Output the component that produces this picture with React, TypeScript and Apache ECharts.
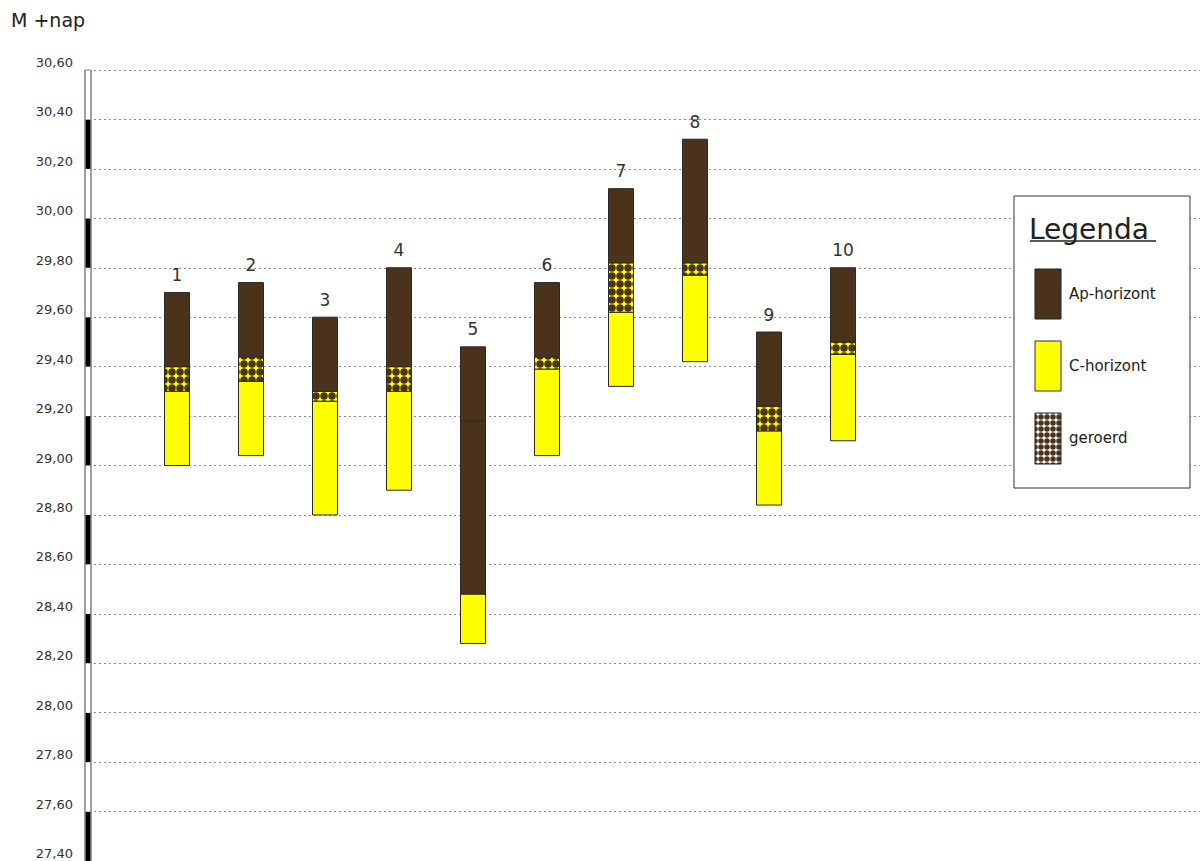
import React, { useEffect, useRef } from 'react';
import * as echarts from 'echarts';

// Profile numbers (boringen)
const profiles = ['1', '2', '3', '4', '5', '6', '7', '8', '9', '10'];

// Layers per profile: [profile index, bottom (m +NAP), top (m +NAP)]
const cHorizont = [
  [0, 29.0, 29.3],
  [1, 29.04, 29.34],
  [2, 28.8, 29.26],
  [3, 28.9, 29.3],
  [4, 28.28, 28.48],
  [5, 29.04, 29.39],
  [6, 29.32, 29.62],
  [7, 29.42, 29.77],
  [8, 28.84, 29.14],
  [9, 29.1, 29.45],
];
const geroerd = [
  [0, 29.3, 29.4],
  [1, 29.34, 29.44],
  [2, 29.26, 29.3],
  [3, 29.3, 29.4],
  [5, 29.39, 29.44],
  [6, 29.62, 29.82],
  [7, 29.77, 29.82],
  [8, 29.14, 29.24],
  [9, 29.45, 29.5],
];
const apHorizont = [
  [0, 29.4, 29.7],
  [1, 29.44, 29.74],
  [2, 29.3, 29.6],
  [3, 29.4, 29.8],
  [4, 28.48, 29.18],
  [4, 29.18, 29.48],
  [5, 29.44, 29.74],
  [6, 29.82, 30.12],
  [7, 29.82, 30.32],
  [8, 29.24, 29.54],
  [9, 29.5, 29.8],
];

const yMin = 27.4;
const yMax = 30.6;
const yStep = 0.2;

const legendItems = ['Ap-horizont', 'C-horizont', 'geroerd'];

const FONT = 'DejaVu Sans';
const AP_COLOR = '#4b321b';
const C_COLOR = '#ffff00';

function makePattern(bg: string, dot: string, size: number, r: number) {
  const c = document.createElement('canvas');
  c.width = size;
  c.height = size;
  const ctx = c.getContext('2d')!;
  ctx.fillStyle = bg;
  ctx.fillRect(0, 0, size, size);
  ctx.fillStyle = dot;
  ctx.beginPath();
  ctx.arc(size / 2, size / 2, r, 0, Math.PI * 2);
  ctx.fill();
  return { image: c, repeat: 'repeat', imageWidth: size, imageHeight: size } as any;
}

export default function App() {
  const ref = useRef<HTMLDivElement>(null);

  useEffect(() => {
    if (!ref.current) return;
    const chart = echarts.init(ref.current, undefined, { renderer: 'svg' });

    const barPattern = makePattern(C_COLOR, AP_COLOR, 8, 3.75);
    const legendPattern = makePattern('#ffffff', AP_COLOR, 6, 2.75);

    const toData = (layers: number[][]) => layers.map((l) => [l[0] + 1, l[1], l[2]]);

    const tops = profiles.map((p, i) => {
      const all = [...cHorizont, ...geroerd, ...apHorizont].filter((l) => l[0] === i);
      return [i + 1, Math.max(...all.map((l) => l[2])), p];
    });

    const rectRender = (fill: any) => (params: any, api: any) => {
      const x = api.value(0);
      const lo = api.coord([x, api.value(1)]);
      const hi = api.coord([x, api.value(2)]);
      const w = 25;
      return {
        type: 'rect',
        shape: { x: hi[0] - w / 2, y: hi[1], width: w, height: lo[1] - hi[1] },
        style: { fill, stroke: '#2a2a2a', lineWidth: 1 },
      };
    };

    const option: any = {
      animation: false,
      backgroundColor: '#ffffff',
      grid: [
        { left: 94, right: 0, top: 70, height: 793, show: false },
        { left: 85, width: 6, top: 70, height: 793, show: false },
      ],
      xAxis: [
        { type: 'value', gridIndex: 0, min: -0.1216, max: 14.824, show: false },
        {
          type: 'value',
          gridIndex: 1,
          min: 0,
          max: 1,
          axisLabel: { show: false },
          axisTick: { show: false },
          splitLine: { show: false },
          axisLine: { show: false },
        },
      ],
      yAxis: [
        {
          type: 'value',
          gridIndex: 0,
          min: yMin,
          max: yMax,
          interval: yStep,
          axisLine: { show: false },
          axisTick: { show: false },
          axisLabel: {
            margin: 21,
            verticalAlign: 'bottom',
            padding: [0, 0, 1, 0],
            fontFamily: FONT,
            fontSize: 13,
            color: '#333',
            formatter: (v: number) => v.toFixed(2).replace('.', ','),
          },
          splitLine: { show: true, lineStyle: { color: '#8c8c8c', type: [2, 3], width: 1 } },
        },
        {
          type: 'value',
          gridIndex: 1,
          min: yMin,
          max: yMax,
          interval: yStep,
          axisLine: { show: false },
          axisTick: { show: false },
          axisLabel: { show: false },
          splitLine: { show: false },
          splitArea: { show: true, areaStyle: { color: ['#000000', '#ffffff'] } },
        },
      ],
      series: [
        { type: 'custom', name: 'C-horizont', renderItem: rectRender(C_COLOR), data: toData(cHorizont), encode: { x: 0, y: [1, 2] }, clip: false },
        { type: 'custom', name: 'geroerd', renderItem: rectRender(barPattern), data: toData(geroerd), encode: { x: 0, y: [1, 2] }, clip: false },
        { type: 'custom', name: 'Ap-horizont', renderItem: rectRender(AP_COLOR), data: toData(apHorizont), encode: { x: 0, y: [1, 2] }, clip: false },
        {
          type: 'custom',
          name: 'labels',
          data: tops,
          encode: { x: 0, y: 1 },
          clip: false,
          renderItem: (params: any, api: any) => {
            const p = api.coord([api.value(0), api.value(1)]);
            return {
              type: 'text',
              style: {
                text: profiles[params.dataIndex],
                x: p[0],
                y: p[1] - 9,
                align: 'center',
                verticalAlign: 'bottom',
                fontFamily: FONT,
                fontSize: 17,
                fill: '#333',
              },
            };
          },
        },
      ],
      graphic: {
        elements: [
          { type: 'text', style: { text: 'M +nap', x: 11, y: 20, verticalAlign: 'middle', fontFamily: FONT, fontSize: 19, fill: '#222' } },
          // ruler border (vertical gray lines)
          { type: 'line', shape: { x1: 85, y1: 70, x2: 85, y2: 861 }, style: { stroke: '#808080', lineWidth: 1.5 }, z: 5 },
          { type: 'line', shape: { x1: 91, y1: 70, x2: 91, y2: 861 }, style: { stroke: '#808080', lineWidth: 1.5 }, z: 5 },
          { type: 'line', shape: { x1: 85, y1: 70, x2: 91, y2: 70 }, style: { stroke: '#808080', lineWidth: 1 }, z: 5 },
          { type: 'rect', shape: { x: 1014, y: 196, width: 176, height: 292 }, style: { fill: '#fff', stroke: '#333', lineWidth: 1 }, z: 10 },
          { type: 'text', style: { text: 'Legenda', x: 1029, y: 229, verticalAlign: 'middle', fontFamily: FONT, fontSize: 28, fill: '#222' }, z: 11 },
          { type: 'line', shape: { x1: 1030, y1: 241, x2: 1156, y2: 241 }, style: { stroke: '#222', lineWidth: 1.5 }, z: 11 },
          { type: 'rect', shape: { x: 1035, y: 269, width: 26, height: 50 }, style: { fill: AP_COLOR, stroke: '#222', lineWidth: 1 }, z: 11 },
          { type: 'rect', shape: { x: 1035, y: 341, width: 26, height: 50 }, style: { fill: C_COLOR, stroke: '#333', lineWidth: 1 }, z: 11 },
          { type: 'rect', shape: { x: 1035, y: 413, width: 26, height: 51 }, style: { fill: legendPattern, stroke: '#222', lineWidth: 1 }, z: 11 },
          { type: 'text', style: { text: legendItems[0], x: 1069, y: 294, verticalAlign: 'middle', fontFamily: FONT, fontSize: 15, fill: '#222' }, z: 11 },
          { type: 'text', style: { text: legendItems[1], x: 1069, y: 366, verticalAlign: 'middle', fontFamily: FONT, fontSize: 15, fill: '#222' }, z: 11 },
          { type: 'text', style: { text: legendItems[2], x: 1069, y: 438, verticalAlign: 'middle', fontFamily: FONT, fontSize: 15, fill: '#222' }, z: 11 },
        ],
      },
    };

    chart.setOption(option);
    return () => chart.dispose();
  }, []);

  return (
    <div
      ref={ref}
      style={{ position: 'absolute', left: 0, top: 0, width: 1200, height: 861, background: '#fff' }}
    />
  );
}
